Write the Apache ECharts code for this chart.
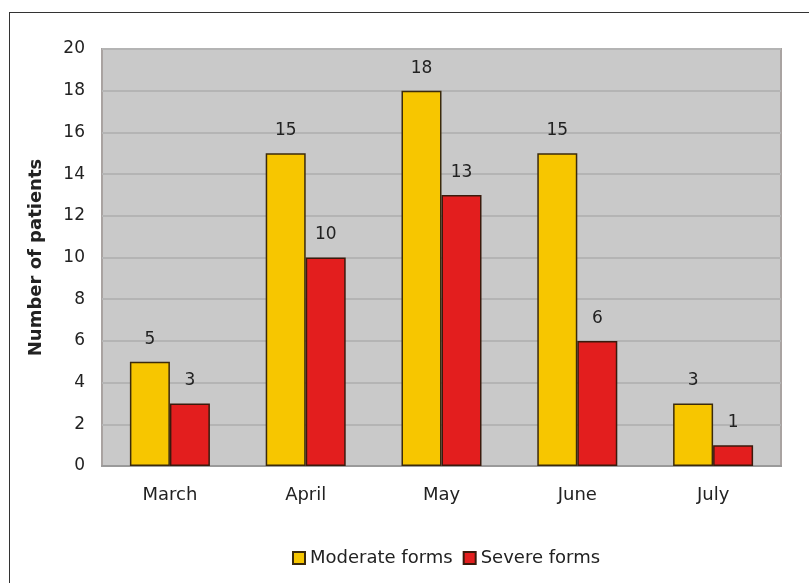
<!DOCTYPE html>
<html><head><meta charset="utf-8">
<script src="https://cdn.jsdelivr.net/npm/echarts@6/dist/echarts.min.js"></script>
<style>html,body{margin:0;padding:0;background:#fff}#c{width:809px;height:583px;position:relative}
#frame{position:absolute;left:9px;top:12px;width:820px;height:600px;border:1.5px solid #333;pointer-events:none}</style>
</head><body><div id="c"></div><div id="frame"></div>
<script>
const categories = ["March", "April", "May", "June", "July"];
const moderate = [5, 15, 18, 15, 3];
const severe = [3, 10, 13, 6, 1];
const seriesNames = ["Moderate forms", "Severe forms"];

const chart = echarts.init(document.getElementById('c'));
const font = 'DejaVu Sans, sans-serif';
const lbl = {show: true, position: 'top', distance: 14, color: '#222', fontSize: 17, fontFamily: font};
chart.setOption({
  animation: false,
  grid: {left: 102, top: 49, right: 28, bottom: 117, show: true, backgroundColor: '#c9c9c9', borderColor: '#a9a3a1', borderWidth: 2},
  legend: {bottom: 11, left: 287, itemWidth: 12, itemHeight: 12, itemGap: 10,
    textStyle: {fontSize: 18, color: '#222', fontFamily: font},
    data: seriesNames.map(n => ({name: n, icon: 'rect'}))},
  xAxis: {type: 'category', data: categories,
    axisLine: {show: true, lineStyle: {color: '#9a9a9a', width: 2}},
    axisTick: {show: false},
    axisLabel: {fontSize: 18, color: '#222', margin: 20, fontFamily: font}},
  yAxis: {type: 'value', min: 0, max: 20, interval: 2,
    name: 'Number of patients', nameLocation: 'middle', nameGap: 57,
    nameTextStyle: {fontSize: 18, fontWeight: 'bold', color: '#222', fontFamily: font},
    axisLine: {show: false}, axisTick: {show: false},
    axisLabel: {fontSize: 17, color: '#222', margin: 17, fontFamily: font},
    splitLine: {lineStyle: {color: '#b4b4b4', width: 2}}},
  series: [
    {name: seriesNames[0], type: 'bar', data: moderate, barWidth: 40, barGap: '0%',
     itemStyle: {color: '#f7c600', borderColor: '#3b2a0c', borderWidth: 1.5}, label: lbl},
    {name: seriesNames[1], type: 'bar', data: severe, barWidth: 40, barGap: '0%',
     itemStyle: {color: '#e31e1e', borderColor: '#3b1a0c', borderWidth: 1.5}, label: lbl}
  ]
});
</script></body></html>
